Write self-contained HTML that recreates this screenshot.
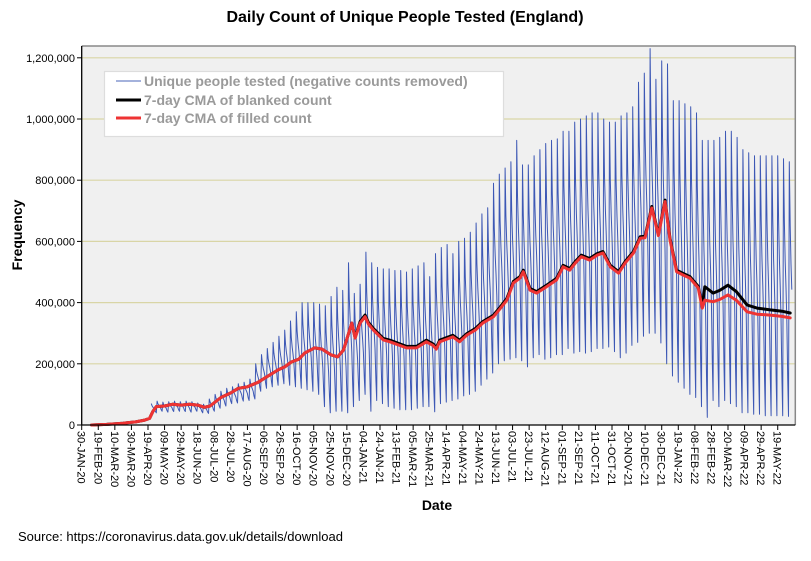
<!DOCTYPE html>
<html><head><meta charset="utf-8">
<style>
body{margin:0;background:#fff;}
svg{display:block;font-family:"Liberation Sans",Arial,sans-serif;}
</style></head>
<body>
<svg id="chart" width="811" height="561" viewBox="0 0 811 561">
<rect x="0" y="0" width="811" height="561" fill="#fff"/>
<text x="405" y="22" text-anchor="middle" font-size="16" font-weight="bold">Daily Count of Unique People Tested (England)</text>
<rect x="81.7" y="46" width="713.6" height="379" fill="#f0f0f0"/>
<g id="grid"></g>
<g id="series"></g>
<line x1="81.7" y1="46" x2="795.3" y2="46" stroke="#888" stroke-width="1.5"/>
<line x1="795.3" y1="46" x2="795.3" y2="425" stroke="#888" stroke-width="1.5"/>
<line x1="81.7" y1="46" x2="81.7" y2="425.5" stroke="#000" stroke-width="1.3"/>
<line x1="81.7" y1="425" x2="795.3" y2="425" stroke="#000" stroke-width="1.3"/>
<g id="yticks"></g>
<g id="xticks"></g>
<text transform="translate(22,235) rotate(-90)" text-anchor="middle" font-size="14" font-weight="bold">Frequency</text>
<text x="437" y="510" text-anchor="middle" font-size="14" font-weight="bold">Date</text>
<text x="18" y="541" font-size="13">Source: https://coronavirus.data.gov.uk/details/download</text>
<g>
<rect x="104.5" y="71.5" width="399" height="65" fill="#fff" stroke="#ddd" stroke-width="1.2"/>
<g>
<line x1="116" y1="81" x2="141" y2="81" stroke="#4a64b8" stroke-width="1"/>
<text x="144" y="86" font-size="14" font-weight="bold" fill="#9a9a9a">Unique people tested (negative counts removed)</text></g>
<g>
<line x1="116" y1="100" x2="141" y2="100" stroke="#000" stroke-width="3"/>
<text x="144" y="105" font-size="14" font-weight="bold" fill="#9a9a9a">7-day CMA of blanked count</text></g>
<g>
<line x1="116" y1="118" x2="141" y2="118" stroke="#ee3333" stroke-width="3"/>
<text x="144" y="123" font-size="14" font-weight="bold" fill="#9a9a9a">7-day CMA of filled count</text></g>
</g>
</svg>
<script>
// Data (values in thousands; days since 30-Jan-2020)
const weekStartDay = 84;
const weeklyPeaks = [70,78,75,76,78,76,78,76,72,68,85,100,110,120,125,135,140,150,200,230,250,270,290,310,340,370,400,400,400,395,390,420,450,440,530,430,460,565,530,515,510,510,505,505,500,510,520,530,485,560,580,590,560,600,610,630,660,690,710,790,820,840,860,930,850,850,880,900,920,930,935,960,960,990,1000,1010,1020,1020,1000,990,990,1010,1020,1040,1120,1150,1230,1130,1190,1180,1060,1060,1050,1040,1020,930,930,930,940,960,960,940,900,890,880,880,880,880,880,870,860];
const weeklyTroughs = [40,45,42,44,45,44,42,45,40,38,45,55,62,70,72,78,80,85,110,120,125,130,135,130,125,120,115,110,100,60,40,45,45,40,60,80,100,45,80,70,60,55,50,50,50,55,60,60,43,70,75,80,85,95,100,110,130,150,170,200,210,215,220,210,190,220,230,215,220,230,230,250,235,240,235,240,250,250,255,240,220,235,260,270,290,300,300,268,200,160,140,120,100,90,60,25,80,60,80,70,60,40,40,35,35,30,30,30,30,28,25];
const weekdayShape = [1,0.75,0.6,0.5,0.38,0.15,0];
const cmaDays = [12,30,50,65,76,82,86,90,100,110,120,130,140,148,155,168,180,189,200,213,225,237,245,253,262,269,281,290,301,309,316,321,326,330,336,342,346,352,364,372,392,404,416,424,428,432,448,456,465,475,484,497,505,513,521,529,533,541,549,560,573,581,589,596,603,613,622,629,638,648,656,666,674,680,688,696,704,710,718,726,734,744,749,752,762,770,780,790,803,815,831,845,855];
const cmaFilled = [0,2,6,10,16,22,45,60,62,68,65,68,65,58,62,90,105,120,125,140,160,180,190,206,215,235,252,248,229,223,245,290,333,284,333,354,330,310,278,272,252,252,272,260,248,272,288,272,294,310,333,354,380,408,464,480,501,441,431,450,474,517,506,530,550,539,555,562,517,496,530,562,610,612,709,619,730,605,501,490,480,448,382,408,403,410,425,408,370,362,359,355,350];
const cmaBlanked = [0,2,6,10,16,22,45,60,62,68,65,68,65,58,62,90,105,120,125,140,160,180,190,206,215,235,252,248,229,223,245,290,333,286,338,359,335,315,283,277,257,257,277,265,253,277,293,277,299,315,338,359,385,413,469,485,506,446,436,455,479,522,511,535,555,544,560,567,522,501,535,567,615,617,714,624,735,610,506,495,485,453,390,452,431,440,457,436,392,382,376,372,366];
const yTickValues = [0,200,400,600,800,1000,1200];
const yTickLabels = ["0","200,000","400,000","600,000","800,000","1,000,000","1,200,000"];
const xTickCount = 43;

const NS="http://www.w3.org/2000/svg";
function xS(d){return 81.7+d*0.8286;}
function yS(v){return 425-v*0.306;}
function mk(tag,attrs,parent){const e=document.createElementNS(NS,tag);for(const k in attrs)e.setAttribute(k,attrs[k]);parent.appendChild(e);return e;}

const grid=document.getElementById('grid'), yt=document.getElementById('yticks'), xt=document.getElementById('xticks'), ser=document.getElementById('series');
yTickValues.forEach((v,i)=>{
  if(v>0){const g=mk('line',{x1:81.7,x2:795.3,y1:yS(v),y2:yS(v),stroke:'#d9d5a6','stroke-width':1.2},grid);
  
  }
  mk('line',{x1:77,x2:81.7,y1:yS(v),y2:yS(v),stroke:'#000'},yt);
  const t=mk('text',{x:75,y:yS(v)+4,'text-anchor':'end','font-size':11},yt);
  
  
  t.textContent=yTickLabels[i];
});
const MON=['JAN','FEB','MAR','APR','MAY','JUN','JUL','AUG','SEP','OCT','NOV','DEC'];
const base=Date.UTC(2020,0,30);
for(let i=0;i<xTickCount;i++){
  const d=i*20, x=xS(d);
  mk('line',{x1:x,x2:x,y1:425,y2:430,stroke:'#000'},xt);
  const dt=new Date(base+d*86400000);
  const lab=String(dt.getUTCDate()).padStart(2,'0')+'-'+MON[dt.getUTCMonth()]+'-'+String(dt.getUTCFullYear()).slice(2);
  const t=mk('text',{transform:`translate(${x-4},431) rotate(90)`,'font-size':11},xt);
  
  
  t.textContent=lab;
}
let pts=[];
weeklyPeaks.forEach((p,w)=>{
  const tr=weeklyTroughs[w];
  for(let k=0;k<7;k++){const d=weekStartDay+w*7+k; if(d>857)break; const v=tr+weekdayShape[k]*(p-tr); pts.push(xS(d).toFixed(1)+','+yS(v).toFixed(1));}
});
const blue=mk('polyline',{points:pts.join(' '),fill:'none',stroke:'#3d58b5','stroke-width':1,'stroke-linejoin':'round'},ser);


const bl=mk('polyline',{points:cmaDays.map((d,i)=>xS(d).toFixed(1)+','+yS(cmaBlanked[i]).toFixed(1)).join(' '),fill:'none',stroke:'#000','stroke-width':3,'stroke-linejoin':'round','stroke-linecap':'round'},ser);


const rd=mk('polyline',{points:cmaDays.map((d,i)=>xS(d).toFixed(1)+','+yS(cmaFilled[i]).toFixed(1)).join(' '),fill:'none',stroke:'#ee3333','stroke-width':3,'stroke-linejoin':'round','stroke-linecap':'round'},ser);


</script>
</body></html>
